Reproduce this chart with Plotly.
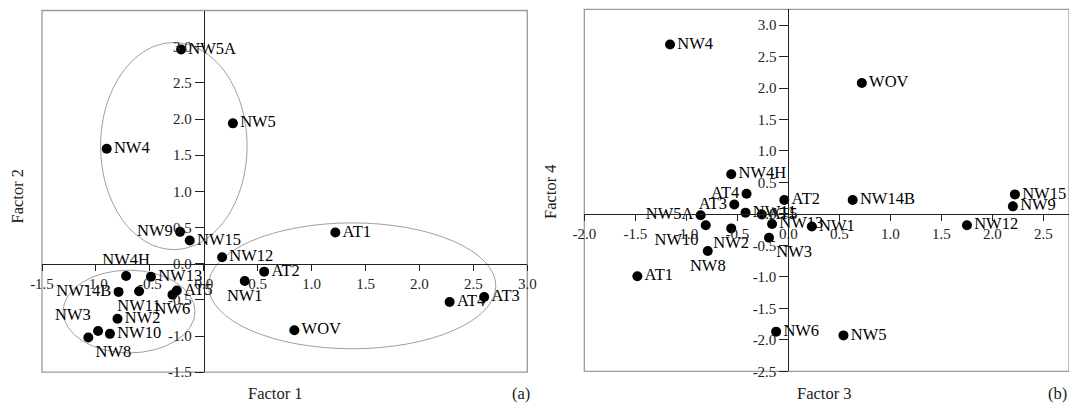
import plotly.graph_objects as go

# ---------------- data ----------------
labels_a = ["NW5A", "NW5", "NW4", "NW9", "NW15", "AT1", "NW12", "AT2", "NW1", "AT3", "AT4",
            "WOV", "NW4H", "NW13", "NW14B", "NW11", "AT5", "NW6", "NW2", "NW3", "NW10", "NW8"]
factor1 = [-0.21, 0.27, -0.90, -0.22, -0.13, 1.22, 0.17, 0.56, 0.38, 2.60, 2.28,
           0.84, -0.72, -0.49, -0.79, -0.60, -0.25, -0.29, -0.80, -0.98, -0.87, -1.07]
factor2 = [2.96, 1.94, 1.59, 0.44, 0.32, 0.43, 0.09, -0.11, -0.24, -0.46, -0.53,
           -0.92, -0.17, -0.18, -0.39, -0.38, -0.37, -0.43, -0.76, -0.93, -0.97, -1.02]

labels_b = ["NW4", "WOV", "NW4H", "AT4", "NW15", "AT2", "NW14B", "AT3", "NW11", "AT5", "NW9",
            "NW5A", "NW10", "NW2", "NW13", "NW3", "NW1", "NW12", "NW8", "AT1", "NW6", "NW5"]
factor3 = [-1.16, 0.72, -0.56, -0.41, 2.22, -0.04, 0.63, -0.53, -0.42, -0.26, 2.20,
           -0.86, -0.81, -0.56, -0.16, -0.19, 0.23, 1.75, -0.79, -1.48, -0.12, 0.54]
factor4 = [2.69, 2.08, 0.63, 0.32, 0.31, 0.22, 0.22, 0.15, 0.02, -0.01, 0.12,
           -0.02, -0.18, -0.23, -0.16, -0.38, -0.20, -0.18, -0.59, -0.99, -1.87, -1.93]

# group ellipses in panel (a): (x0, y0, x1, y1) in data units
ellipses_a = [(-0.957, 0.195, 0.402, 3.057),
              (-1.305, -1.234, -0.081, -0.09),
              (0.044, -1.176, 2.708, 0.564)]

ticks_xa = [-1.5, -1.0, -0.5, 0.0, 0.5, 1.0, 1.5, 2.0, 2.5, 3.0]
ticks_ya = [-1.5, -1.0, -0.5, 0.0, 0.5, 1.0, 1.5, 2.0, 2.5, 3.0]
ticks_xb = [-2.0, -1.5, -1.0, -0.5, 0.0, 0.5, 1.0, 1.5, 2.0, 2.5]
ticks_yb = [-2.5, -2.0, -1.5, -1.0, -0.5, 0.0, 0.5, 1.0, 1.5, 2.0, 2.5, 3.0]

def tick_text(vals):
    return ["%.1f" % v for v in vals]

# ---------------- style / layout ----------------
MR, ML = "middle right", "middle left"
pos_a = [MR, MR, MR, ML, MR, MR, MR, MR, "bottom center", MR, MR,
         MR, "top center", MR, ML, "bottom center", MR, "bottom center", MR, "top left", MR, "bottom right"]
pos_b = [MR, MR, MR, ML, MR, MR, MR, ML, MR, MR, MR,
         ML, "bottom left", "bottom center", MR, "bottom right", MR, MR, "bottom center", MR, MR, MR]

FONT = "'Liberation Serif', 'Times New Roman', 'DejaVu Serif', serif"
W, H = 1069, 403
xa_range, ya_range = [-1.5, 3.0], [-1.5, 3.5]
xb_range, yb_range = [-2.0, 2.75], [-2.5, 3.25]
dom_xa, dom_ya = [42.0 / W, 527.3 / W], [(H - 372.2) / H, (H - 10.5) / H]
dom_xb, dom_yb = [584.3 / W, 1.0], [(H - 371.3) / H, (H - 9.3) / H]

def frac(v, rng, dom):
    return dom[0] + (v - rng[0]) / (rng[1] - rng[0]) * (dom[1] - dom[0])

fig = go.Figure()
common_marker = dict(size=10, color="black")
common_text = dict(family=FONT, size=16.5, color="black")
fig.add_trace(go.Scatter(x=factor1, y=factor2, text=labels_a, mode="markers+text",
                         textposition=pos_a, marker=common_marker, textfont=common_text,
                         xaxis="x", yaxis="y", cliponaxis=False, hoverinfo="text"))
fig.add_trace(go.Scatter(x=factor3, y=factor4, text=labels_b, mode="markers+text",
                         textposition=pos_b, marker=common_marker, textfont=common_text,
                         xaxis="x2", yaxis="y2", cliponaxis=False, hoverinfo="text"))

def axis(rng, dom, pos, tv, ticklen):
    return dict(range=rng, domain=dom, anchor="free", position=pos,
                showline=True, linecolor="#222222", linewidth=1,
                ticks="outside", ticklen=ticklen, tickcolor="#222222", tickwidth=1,
                tickmode="array", tickvals=tv, ticktext=tick_text(tv),
                tickfont=dict(family=FONT, size=15, color="#222222"),
                showgrid=False, zeroline=False, automargin=False, fixedrange=True)

fig.update_layout(
    width=W, height=H,
    margin=dict(l=0, r=0, t=0, b=0, pad=0),
    paper_bgcolor="white", plot_bgcolor="white",
    font=dict(family=FONT),
    showlegend=False,
    xaxis=axis(xa_range, dom_xa, frac(0, ya_range, dom_ya), ticks_xa, 6),
    yaxis=axis(ya_range, dom_ya, frac(0, xa_range, dom_xa), ticks_ya, 9),
    xaxis2=axis(xb_range, dom_xb, frac(0, yb_range, dom_yb), ticks_xb, 6),
    yaxis2=axis(yb_range, dom_yb, frac(0, xb_range, dom_xb), ticks_yb, 9),
)

frame_line = dict(color="#9a9a9a", width=1.3)
shapes = [
    dict(type="rect", xref="x domain", yref="y domain", x0=0, x1=1, y0=0, y1=1,
         line=frame_line, layer="below"),
    dict(type="rect", xref="x2 domain", yref="y2 domain", x0=0, x1=1, y0=0, y1=1,
         line=frame_line, layer="below"),
]
for (x0, y0, x1, y1) in ellipses_a:
    shapes.append(dict(type="circle", xref="x", yref="y", x0=x0, y0=y0, x1=x1, y1=y1,
                       line=dict(color="#a0a0a0", width=1), layer="below"))
fig.update_layout(shapes=shapes)

title_font = dict(family=FONT, size=16.5, color="#222222")
ann = [
    dict(text="Factor 1", x=275.5 / W, y=(H - 393.3) / H),
    dict(text="(a)", x=521.0 / W, y=(H - 393.3) / H),
    dict(text="Factor 3", x=824.5 / W, y=(H - 393.3) / H),
    dict(text="(b)", x=1057.8 / W, y=(H - 393.3) / H),
    dict(text="Factor 2", x=16.5 / W, y=(H - 196.0) / H, textangle=-90),
    dict(text="Factor 4", x=550.0 / W, y=(H - 192.0) / H, textangle=-90),
]
for a in ann:
    a.update(xref="paper", yref="paper", showarrow=False, font=title_font,
             xanchor="center", yanchor="middle")
fig.update_layout(annotations=ann)

fig.write_html("out.html",
               config={"displayModeBar": False},
               post_script="document.body.style.margin='0';document.body.style.overflow='hidden';")
